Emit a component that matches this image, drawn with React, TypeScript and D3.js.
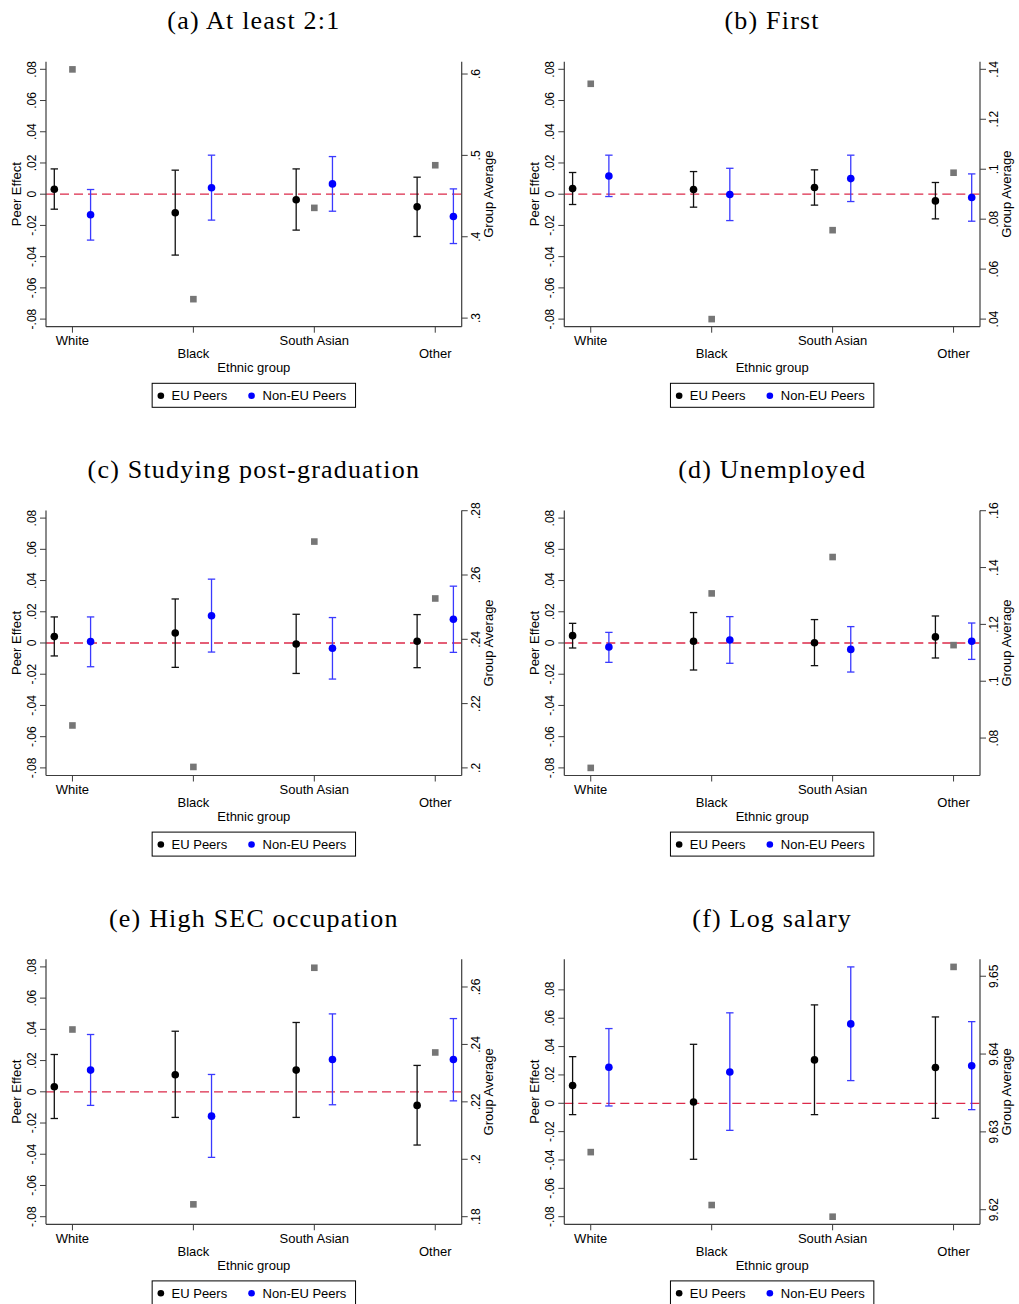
import React from "react";
import * as d3 from "d3";

// ---------- data ----------
const categories = ["White", "Black", "South Asian", "Other"];
const seriesNames = ["EU Peers", "Non-EU Peers"];
const titles = [
  "(a) At least 2:1",
  "(b) First",
  "(c) Studying post-graduation",
  "(d) Unemployed",
  "(e) High SEC occupation",
  "(f) Log salary",
];

// [estimate, lower CI, upper CI] per ethnic group
const euA = [[0.0032, -0.0096, 0.0162], [-0.0119, -0.039, 0.0154], [-0.0036, -0.023, 0.0162], [-0.0081, -0.0271, 0.0109]];
const nonEuA = [[-0.0132, -0.0294, 0.003], [0.0041, -0.0166, 0.025], [0.0066, -0.0109, 0.0241], [-0.0143, -0.0316, 0.0034]];
const avgA = [0.6057, 0.3233, 0.4355, 0.4879];

const euB = [[0.0036, -0.0066, 0.0139], [0.003, -0.0083, 0.0145], [0.0043, -0.007, 0.0156], [-0.0043, -0.0158, 0.0075]];
const nonEuB = [[0.0117, -0.0015, 0.025], [-0.0002, -0.0169, 0.0166], [0.01, -0.0047, 0.025], [-0.0021, -0.0173, 0.013]];
const avgB = [0.1342, 0.04, 0.0756, 0.0986];

const euC = [[0.0041, -0.0083, 0.0167], [0.0064, -0.0156, 0.0282], [-0.0006, -0.0195, 0.0184], [0.0011, -0.0158, 0.0182]];
const nonEuC = [[0.0009, -0.0152, 0.0167], [0.0175, -0.0058, 0.0409], [-0.0034, -0.0231, 0.0163], [0.0152, -0.006, 0.0364]];
const avgC = [0.2132, 0.2003, 0.2704, 0.2527];

const euD = [[0.0047, -0.0032, 0.0126], [0.0011, -0.0173, 0.0195], [0.0002, -0.0145, 0.015], [0.0039, -0.0096, 0.0173]];
const nonEuD = [[-0.0026, -0.0124, 0.0068], [0.0019, -0.013, 0.0169], [-0.0041, -0.0186, 0.0105], [0.0011, -0.0105, 0.0128]];
const avgD = [0.0695, 0.1309, 0.1437, 0.1127];

const euE = [[0.0032, -0.0171, 0.0239], [0.0109, -0.0164, 0.0388], [0.0139, -0.0164, 0.0444], [-0.0087, -0.0341, 0.0169]];
const nonEuE = [[0.0139, -0.0087, 0.0367], [-0.0156, -0.042, 0.0111], [0.0207, -0.0083, 0.0499], [0.0207, -0.0058, 0.0469]];
const avgE = [0.2452, 0.1843, 0.2667, 0.2372];

const euF = [[0.0125, -0.008, 0.0329], [0.0009, -0.0395, 0.0416], [0.0306, -0.008, 0.0694], [0.0252, -0.0106, 0.0609]];
const nonEuF = [[0.0254, -0.0019, 0.0527], [0.0221, -0.0191, 0.0638], [0.056, 0.016, 0.0962], [0.0264, -0.0045, 0.0576]];
const avgF = [9.6274, 9.6206, 9.6191, 9.6512];

// axis ticks
const leftTicks = [-0.08, -0.06, -0.04, -0.02, 0, 0.02, 0.04, 0.06, 0.08];
const rightTicksA = [0.3, 0.4, 0.5, 0.6];
const rightTicksB = [0.04, 0.06, 0.08, 0.1, 0.12, 0.14];
const rightTicksC = [0.2, 0.22, 0.24, 0.26, 0.28];
const rightTicksD = [0.08, 0.1, 0.12, 0.14, 0.16];
const rightTicksE = [0.18, 0.2, 0.22, 0.24, 0.26];
const rightTicksF = [9.62, 9.63, 9.64, 9.65];

// right-axis ranges (axis extent)
const rightRangeA = [0.2988, 0.6058];
const rightRangeB = [0.04, 0.14];
const rightRangeC = [0.2, 0.2777];
const rightRangeD = [0.0695, 0.1574];
const rightRangeE = [0.18, 0.267];
const rightRangeF = [9.6191, 9.6512];

const panels = [
  { eu: euA, non: nonEuA, avg: avgA, rt: rightTicksA, rr: rightRangeA },
  { eu: euB, non: nonEuB, avg: avgB, rt: rightTicksB, rr: rightRangeB },
  { eu: euC, non: nonEuC, avg: avgC, rt: rightTicksC, rr: rightRangeC },
  { eu: euD, non: nonEuD, avg: avgD, rt: rightTicksD, rr: rightRangeD },
  { eu: euE, non: nonEuE, avg: avgE, rt: rightTicksE, rr: rightRangeE },
  { eu: euF, non: nonEuF, avg: avgF, rt: rightTicksF, rr: rightRangeF },
];

// ---------- layout ----------
const W = 1019;
const H = 1304;
const COL_DX = 518.3;
const ROW_DY = 448.8;
const RL = 46, RR = 461.7, RT = 61.7, RB = 326.7; // region (axes box)
const M = 7.6; // inner margin
const SANS = "'Liberation Sans', Arial, Helvetica, sans-serif";
const SERIF = "'Liberation Serif', 'Times New Roman', serif";
const RED = "#dc2a4a";
const BLUE = "#0000ff";
const BLUE_LINE = "#3a3aff";
const GREY = "#767676";
const AXIS = "#3c3c3c";

const fmt = (v: number) => {
  if (Math.abs(v) < 1e-9) return "0";
  let s = String(+v.toFixed(4));
  s = s.replace(/^0\./, ".").replace(/^-0\./, "-.");
  return s;
};

function Panel({ idx }: { idx: number }) {
  const p = panels[idx];
  const col = idx % 2;
  const row = Math.floor(idx / 2);
  const ox = col * COL_DX;
  const oy = row * ROW_DY;

  const allLo = d3.min([...p.eu, ...p.non], (d) => d[1]) as number;
  const allHi = d3.max([...p.eu, ...p.non], (d) => d[2]) as number;
  const yDom = [Math.min(-0.08, allLo), Math.max(0.08, allHi)];
  const y = d3.scaleLinear().domain(yDom).range([RB - M, RT + M]);
  const y2 = d3.scaleLinear().domain(p.rr).range([RB - M, RT + M]);
  const x = d3.scaleLinear().domain([0.85, 4.15]).range([RL + M + 0.7, RR - M - 0.7]);
  const cx = (i: number) => x(i + 1);
  const midY = (RT + RB) / 2;
  const midX = (RL + RR) / 2;

  const errBar = (d: number[], xx: number, line: string, fill: string, key: string) => (
    <g key={key}>
      <line x1={xx} x2={xx} y1={y(d[1])} y2={y(d[2])} stroke={line} strokeWidth={1.3} />
      <line x1={xx - 3.7} x2={xx + 3.7} y1={y(d[1])} y2={y(d[1])} stroke={line} strokeWidth={1.3} />
      <line x1={xx - 3.7} x2={xx + 3.7} y1={y(d[2])} y2={y(d[2])} stroke={line} strokeWidth={1.3} />
      <circle cx={xx} cy={y(d[0])} r={3.8} fill={fill} />
    </g>
  );

  const legX = midX - 101.7;
  const legY = 383.3;

  return (
    <g transform={`translate(${ox},${oy})`}>
      <text x={midX} y={29.3} textAnchor="middle" fontFamily={SERIF} fontSize={26} letterSpacing={1.2} fill="#000">
        {titles[idx]}
      </text>

      {/* zero line */}
      <line x1={RL} x2={RR} y1={y(0)} y2={y(0)} stroke={RED} strokeWidth={1.3} strokeDasharray="9,5" />

      {/* group averages */}
      {p.avg.map((v, i) => (
        <rect key={"sq" + i} x={cx(i) - 3.3} y={y2(v) - 3.3} width={6.6} height={6.6} fill={GREY} />
      ))}

      {/* estimates */}
      {p.eu.map((d, i) => errBar(d, x(i + 1 - 0.15), "#111", "#000", "eu" + i))}
      {p.non.map((d, i) => errBar(d, x(i + 1 + 0.15), BLUE_LINE, BLUE, "ne" + i))}

      {/* axes */}
      <line x1={RL} x2={RL} y1={RT} y2={RB} stroke={AXIS} strokeWidth={1.2} />
      <line x1={RR} x2={RR} y1={RT} y2={RB} stroke={AXIS} strokeWidth={1.2} />
      <line x1={RL} x2={RR} y1={RB} y2={RB} stroke={AXIS} strokeWidth={1.2} />

      {leftTicks.map((t) => (
        <g key={"lt" + t}>
          <line x1={RL} x2={RL - 6} y1={y(t)} y2={y(t)} stroke={AXIS} strokeWidth={1} />
          <text transform={`translate(36,${y(t)}) rotate(-90)`} textAnchor="middle" fontFamily={SANS} fontSize={12} fill="#000">
            {fmt(t)}
          </text>
        </g>
      ))}
      {p.rt.map((t) => (
        <g key={"rt" + t}>
          <line x1={RR} x2={RR + 6} y1={y2(t)} y2={y2(t)} stroke={AXIS} strokeWidth={1} />
          <text transform={`translate(480,${y2(t)}) rotate(-90)`} textAnchor="middle" fontFamily={SANS} fontSize={12} fill="#000">
            {fmt(t)}
          </text>
        </g>
      ))}
      {categories.map((c, i) => (
        <g key={"xc" + i}>
          <line x1={cx(i)} x2={cx(i)} y1={RB} y2={RB + 6} stroke={AXIS} strokeWidth={1} />
          <text x={cx(i)} y={i % 2 === 0 ? 345 : 358.3} textAnchor="middle" fontFamily={SANS} fontSize={13} fill="#000">
            {c}
          </text>
        </g>
      ))}

      <text transform={`translate(20.7,${midY}) rotate(-90)`} textAnchor="middle" fontFamily={SANS} fontSize={13} fill="#000">
        Peer Effect
      </text>
      <text transform={`translate(492.5,${midY}) rotate(-90)`} textAnchor="middle" fontFamily={SANS} fontSize={13} fill="#000">
        Group Average
      </text>
      <text x={midX} y={372} textAnchor="middle" fontFamily={SANS} fontSize={13} fill="#000">
        Ethnic group
      </text>

      {/* legend */}
      <rect x={legX} y={legY} width={203.4} height={24} fill="#fff" stroke="#000" strokeWidth={1} />
      <circle cx={legX + 8.7} cy={legY + 12.4} r={3.3} fill="#000" />
      <text x={legX + 19.4} y={legY + 16.8} fontFamily={SANS} fontSize={13} fill="#000">
        {seriesNames[0]}
      </text>
      <circle cx={legX + 99.4} cy={legY + 12.4} r={3.3} fill={BLUE} />
      <text x={legX + 110.4} y={legY + 16.8} fontFamily={SANS} fontSize={13} fill="#000">
        {seriesNames[1]}
      </text>
    </g>
  );
}

export default function App() {
  return (
    <svg
      width={W}
      height={H}
      viewBox={`0 0 ${W} ${H}`}
      style={{ position: "absolute", left: 0, top: 0, background: "#fff" }}
    >
      <rect x={0} y={0} width={W} height={H} fill="#fff" />
      {panels.map((_, i) => (
        <Panel key={i} idx={i} />
      ))}
    </svg>
  );
}
